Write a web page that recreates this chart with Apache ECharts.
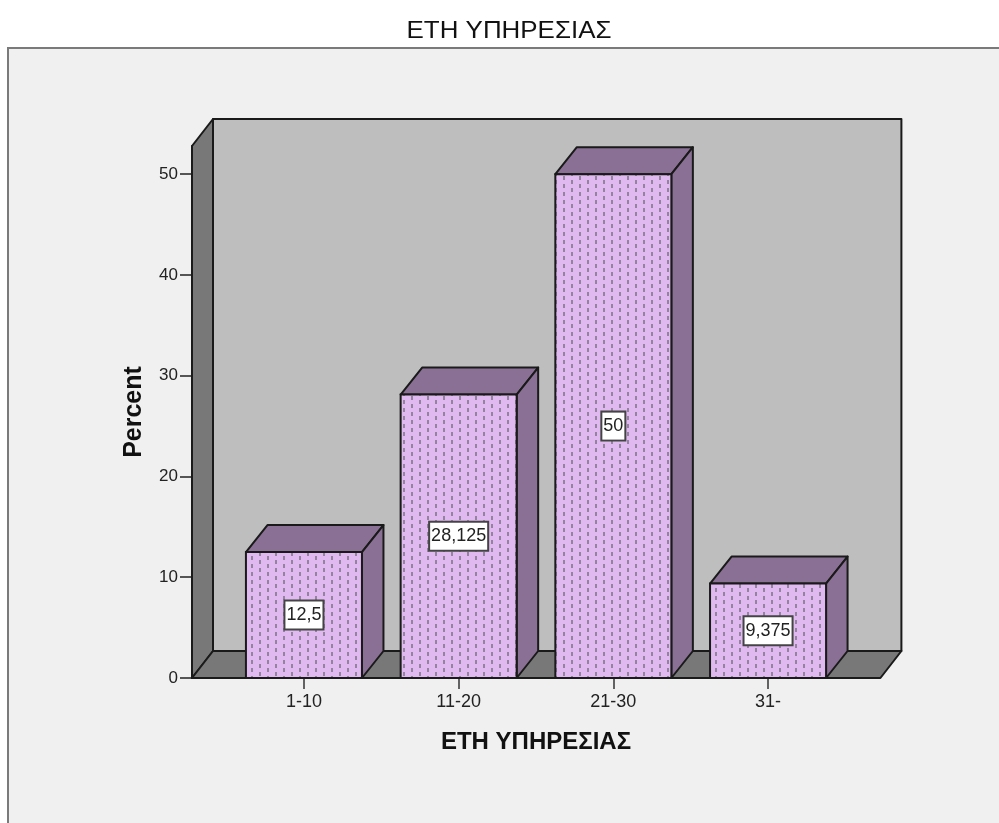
<!DOCTYPE html>
<html>
<head>
<meta charset="utf-8">
<title>ΕΤΗ ΥΠΗΡΕΣΙΑΣ</title>
<script src="https://cdn.jsdelivr.net/npm/echarts@6/dist/echarts.min.js"></script>
<style>
  html, body { margin: 0; padding: 0; background: #fff; }
  #chart { width: 999px; height: 823px; }
</style>
</head>
<body>
<div id="chart"></div>
<script>
const categories = ['1-10', '11-20', '21-30', '31-']
const percentValues = [12.5, 28.125, 50, 9.375]
const yTicks = [0, 10, 20, 30, 40, 50]
const yMax = 52.8

const fontFamily = '"Liberation Sans", Arial, sans-serif'
const lineColor = '#1a1a1a'
// 3d depth of the bars and walls
const depthX = 21.5
const depthY = 27
const wallDepthX = 21
// how far the walls stick out left/right of the category band
const padLeft = 34.6
const padRight = 35

// dashed fill of the bar fronts
const makePattern = () => {
  const c = document.createElement('canvas')
  c.width = 16
  c.height = 8
  const ctx = c.getContext('2d')
  ctx.fillStyle = '#dfb9ef'
  ctx.fillRect(0, 0, 16, 8)
  ctx.fillStyle = '#94839f'
  ctx.fillRect(3, 0, 2, 4)
  ctx.fillRect(11, 4, 2, 4)
  return c
}
const pattern = makePattern()

const poly = (points, fill) => ({
  type: 'polygon',
  shape: { points },
  style: { fill, stroke: lineColor, lineWidth: 2, lineJoin: 'round' }
})

const renderWalls = (params) => {
  const cs = params.coordSys
  const x0 = cs.x - padLeft
  const x1 = cs.x + cs.width + padRight
  const top = cs.y
  const bottom = cs.y + cs.height
  const d = wallDepthX
  return {
    type: 'group',
    children: [
      poly([[x0 + d, top - depthY], [x1 + d, top - depthY], [x1 + d, bottom - depthY], [x0 + d, bottom - depthY]], '#bebebe'),
      poly([[x0, top], [x0 + d, top - depthY], [x0 + d, bottom - depthY], [x0, bottom]], '#787878'),
      poly([[x0, bottom], [x0 + d, bottom - depthY], [x1 + d, bottom - depthY], [x1, bottom]], '#787878')
    ]
  }
}

const renderBar = (params, api) => {
  const value = api.value(1)
  const top = api.coord([api.value(0), value])
  const base = api.coord([api.value(0), 0])
  const w = api.size([1, 0])[0] * 0.75
  const l = top[0] - w / 2
  const r = top[0] + w / 2
  const y = top[1]
  const b = base[1]
  return {
    type: 'group',
    children: [
      poly([[l, y], [l + depthX, y - depthY], [r + depthX, y - depthY], [r, y]], '#8a7095'),
      poly([[r, y], [r + depthX, y - depthY], [r + depthX, b - depthY], [r, b]], '#8a7095'),
      {
        type: 'rect',
        shape: { x: l, y, width: w, height: b - y },
        style: {
          fill: { image: pattern, repeat: 'repeat' },
          stroke: lineColor,
          lineWidth: 2
        }
      },
      {
        type: 'text',
        x: top[0],
        y: (y + b) / 2,
        style: {
          text: String(value).replace('.', ','),
          align: 'center',
          verticalAlign: 'middle',
          fontFamily,
          fontSize: 18,
          fill: '#222',
          backgroundColor: '#fff',
          borderColor: '#444',
          borderWidth: 2,
          padding: [5, 1, 4, 1]
        }
      }
    ]
  }
}

const chart = echarts.init(document.getElementById('chart'), null, { renderer: 'canvas' })

chart.setOption({
  animation: false,
  backgroundColor: '#fff',
  graphic: [
    {
      type: 'rect',
      z: -10,
      silent: true,
      shape: { x: 8, y: 48, width: 1100, height: 900 },
      style: { fill: '#f0f0f0', stroke: '#7a7a7a', lineWidth: 2 }
    },
    {
      type: 'text',
      x: 509,
      y: 31,
      scaleX: 1.08,
      style: {
        text: 'ΕΤΗ ΥΠΗΡΕΣΙΑΣ',
        align: 'center',
        verticalAlign: 'middle',
        fontFamily,
        fontSize: 24,
        fill: '#111'
      }
    }
  ],
  grid: { left: 226.6, top: 146, width: 618.8, height: 532 },
  xAxis: {
    type: 'category',
    data: categories,
    name: 'ΕΤΗ ΥΠΗΡΕΣΙΑΣ',
    nameLocation: 'middle',
    nameGap: 52,
    nameTextStyle: { fontFamily, fontSize: 24, fontWeight: 'bold', color: '#111' },
    axisLine: { show: false },
    axisTick: { show: true, alignWithLabel: true, length: 11, lineStyle: { color: '#333', width: 1.5 } },
    axisLabel: { margin: 15, fontFamily, fontSize: 18, color: '#222' },
    splitLine: { show: false }
  },
  yAxis: {
    type: 'value',
    min: 0,
    max: yMax,
    offset: padLeft,
    name: 'Percent',
    nameLocation: 'middle',
    nameGap: 45,
    nameRotate: 90,
    nameTextStyle: { fontFamily, fontSize: 25, fontWeight: 'bold', color: '#111' },
    axisLine: { show: true, lineStyle: { color: lineColor, width: 2 } },
    axisTick: { show: true, length: 12, lineStyle: { color: '#222', width: 1.5 }, customValues: yTicks },
    axisLabel: { margin: 14, fontFamily, fontSize: 17, color: '#222', customValues: yTicks },
    splitLine: { show: false }
  },
  series: [
    {
      type: 'custom',
      name: 'walls',
      silent: true,
      z: 1,
      renderItem: renderWalls,
      data: [[0, 0]]
    },
    {
      type: 'custom',
      name: 'Percent',
      z: 3,
      renderItem: renderBar,
      encode: { x: 0, y: 1 },
      data: percentValues.map((v, i) => [i, v])
    }
  ]
})
</script>
</body>
</html>
